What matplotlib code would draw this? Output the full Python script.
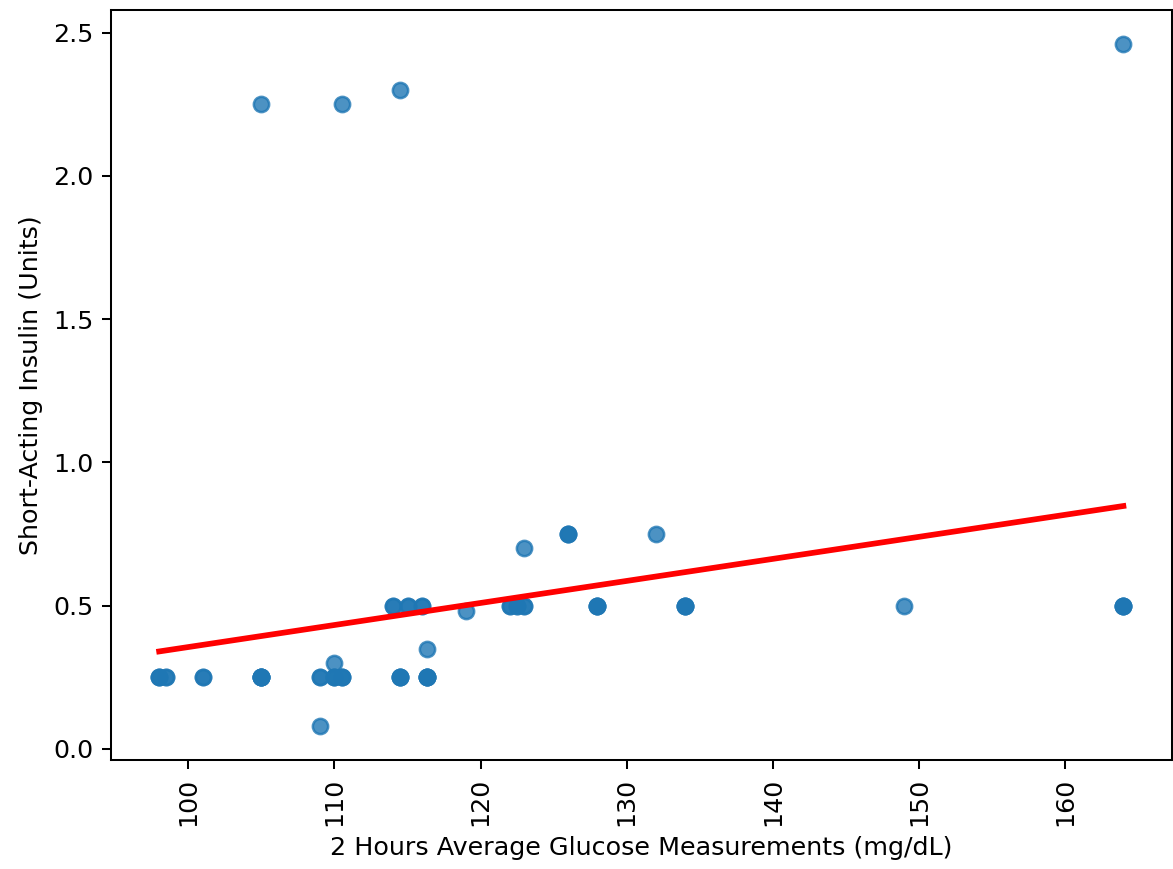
import numpy as np
import matplotlib
matplotlib.use('Agg')
import matplotlib.pyplot as plt
import seaborn as sns

glucose = [98, 98, 98, 98.5, 98.5, 101, 101,
           105, 105, 105, 105, 105, 105, 105,
           109, 109, 109, 110, 110, 110, 110, 110.5, 110.5, 110.5, 110.5,
           114, 114, 115, 115, 116, 116, 114.5, 114.5, 114.5, 114.5, 114.5,
           116.3, 116.3, 116.3, 116.3, 116.3, 116.3, 119,
           122, 122, 122.5, 122.5, 123, 123, 123, 126, 126, 126,
           128, 128, 128, 128, 132, 134, 134, 134, 134,
           149, 164, 164, 164, 164, 164]
insulin = [0.25, 0.25, 0.25, 0.25, 0.25, 0.25, 0.25,
           0.25, 0.25, 0.25, 0.25, 0.25, 0.25, 2.25,
           0.25, 0.25, 0.08, 0.3, 0.25, 0.25, 0.25, 0.25, 0.25, 0.25, 2.25,
           0.5, 0.5, 0.5, 0.5, 0.5, 0.5, 0.25, 0.25, 0.25, 0.25, 2.3,
           0.35, 0.25, 0.25, 0.25, 0.25, 0.25, 0.48,
           0.5, 0.5, 0.5, 0.5, 0.5, 0.5, 0.7, 0.75, 0.75, 0.75,
           0.5, 0.5, 0.5, 0.5, 0.75, 0.5, 0.5, 0.5, 0.5,
           0.5, 0.5, 0.5, 0.5, 0.5, 2.46]

fig = plt.figure(figsize=(6.415, 4.749), dpi=183)
ax = fig.add_axes([0.0945, 0.1254, 0.9035, 0.8631])
sns.regplot(x=np.array(glucose), y=np.array(insulin), ci=None,
            line_kws={'color': 'red'}, ax=ax)
ax.set_xlabel('2 Hours Average Glucose Measurements (mg/dL)')
ax.set_ylabel('Short-Acting Insulin (Units)')
plt.xticks(rotation=90)
fig.savefig('out.png', dpi=183)
